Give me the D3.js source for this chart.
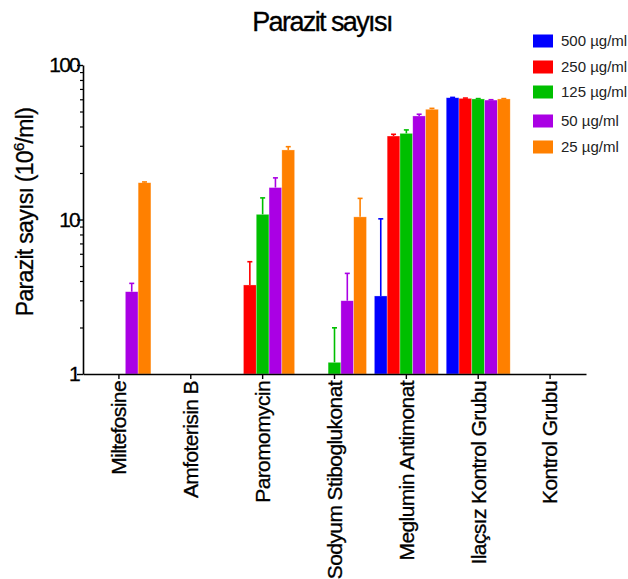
<!DOCTYPE html>
<html>
<head>
<meta charset="utf-8">
<script src="https://cdn.jsdelivr.net/npm/d3@7"></script>
<style>
  body { margin: 0; background: #fff; }
  svg text { font-family: "Liberation Sans", Arial, sans-serif; fill: #000; }
</style>
</head>
<body>
<svg id="chart" width="628" height="579"></svg>
<script>
// groups on the x axis
var categories = ['Miltefosine', 'Amfoterisin B', 'Paromomycin', 'Sodyum Stiboglukonat',
                  'Meglumin Antimonat', 'Ilaçsız Kontrol Grubu', 'Kontrol Grubu'];
var seriesNames = ['500 µg/ml', '250 µg/ml', '125 µg/ml', '50 µg/ml', '25 µg/ml'];
var seriesColors = ['#0000ff', '#ff0000', '#00bf00', '#aa00e4', '#ff8000'];

// mean values (10^6/ml), null = no bar
var s500 = [null, null, null, null, 3.2, 61.4, null];
var s250 = [null, null, 3.77, null, 34.7, 60.8, null];
var s125 = [null, null, 10.8, 1.19, 36.1, 60.3, null];
var s50 = [3.41, null, 16.1, 2.98, 46.8, 59.3, null];
var s25 = [17.3, null, 28.2, 10.4, 51.7, 60.3, null];

// upper error (SD)
var e500 = [null, null, null, null, 6.9, 0.3, null];
var e250 = [null, null, 1.56, null, 0.9, 0.3, null];
var e125 = [null, null, 3.0, 0.8, 1.9, 0.3, null];
var e50 = [0.45, null, 2.5, 1.5, 1.2, 0.3, null];
var e25 = [0.2, null, 1.4, 3.3, 0.7, 0.3, null];

var yTicks = [1, 10, 100];
var yMinor = [2, 3, 4, 5, 6, 7, 8, 9, 20, 30, 40, 50, 60, 70, 80, 90];

var allValues = [s500, s250, s125, s50, s25];
var allErrors = [e500, e250, e125, e50, e25];

var svg = d3.select('#chart');

var x = d3.scaleBand()
  .domain(categories)
  .range([83, 586])
  .padding(0);

var xInner = d3.scaleBand()
  .domain(seriesNames)
  .range([-32, 32])
  .padding(0);

var y = d3.scaleLog()
  .domain([1, 100])
  .range([374, 65]);

// flatten to bar records
var bars = [];
seriesNames.forEach(function(s, si) {
  categories.forEach(function(c, ci) {
    var v = allValues[si][ci];
    if (v != null) {
      bars.push({ cat: c, series: s, color: seriesColors[si], value: v, err: allErrors[si][ci] });
    }
  });
});

var barG = svg.append('g');

barG.selectAll('rect')
  .data(bars)
  .enter()
  .append('rect')
  .attr('x', function(d) { return x(d.cat) + x.bandwidth() / 2 + xInner(d.series); })
  .attr('y', function(d) { return y(d.value); })
  .attr('width', xInner.bandwidth())
  .attr('height', function(d) { return y(1) - y(d.value); })
  .attr('fill', function(d) { return d.color; })
  .attr('stroke', '#fff')
  .attr('stroke-opacity', 0.5)
  .attr('stroke-width', 0.6);

// error bars (upper only)
var errG = svg.append('g');
bars.filter(function(d) { return d.err != null; }).forEach(function(d) {
  var cx = x(d.cat) + x.bandwidth() / 2 + xInner(d.series) + xInner.bandwidth() / 2;
  var top = y(d.value + d.err);
  errG.append('line')
    .attr('x1', cx).attr('x2', cx)
    .attr('y1', y(d.value)).attr('y2', top)
    .attr('stroke', d.color).attr('stroke-width', 1.6);
  errG.append('line')
    .attr('x1', cx - 2.5).attr('x2', cx + 2.5)
    .attr('y1', top).attr('y2', top)
    .attr('stroke', d.color).attr('stroke-width', 1.6);
});

// y axis
var yAxis = svg.append('g')
  .attr('transform', 'translate(83,0)')
  .call(d3.axisLeft(y).tickValues(yTicks).tickSize(6).tickSizeOuter(0).tickFormat(d3.format('d')));

yAxis.select('.domain').attr('stroke-width', 1.6);
yAxis.selectAll('.tick line').attr('stroke-width', 1.4);
yAxis.selectAll('.tick text')
  .attr('x', -4)
  .style('font-size', '21px')
  .style('letter-spacing', '-1.8px')
  .style('stroke', '#000')
  .style('stroke-width', '0.3px')
  .style('font-family', '"Liberation Sans", Arial, sans-serif');

svg.append('g')
  .attr('transform', 'translate(83,0)')
  .call(d3.axisLeft(y).tickValues(yMinor).tickSize(3).tickFormat(''))
  .call(function(g) {
    g.select('.domain').remove();
    g.selectAll('.tick line').attr('stroke-width', 1.2);
  });

// x axis
var xAxis = svg.append('g')
  .attr('transform', 'translate(0,374)')
  .call(d3.axisBottom(x).tickSize(5).tickSizeOuter(0));

xAxis.select('.domain').attr('stroke-width', 1.6);
xAxis.selectAll('.tick line').attr('stroke-width', 1.4);
xAxis.selectAll('.tick text')
  .attr('transform', 'rotate(-90)')
  .attr('x', -7)
  .attr('y', 0)
  .attr('dy', '0.35em')
  .style('text-anchor', 'end')
  .style('font-size', '21px')
  .style('letter-spacing', '-0.6px')
  .style('stroke', '#000')
  .style('stroke-width', '0.3px')
  .style('font-family', '"Liberation Sans", Arial, sans-serif');

// title
svg.append('text')
  .attr('x', 322)
  .attr('y', 31)
  .attr('text-anchor', 'middle')
  .style('font-size', '27px')
  .style('letter-spacing', '-1.6px')
  .style('stroke', '#000')
  .style('stroke-width', '0.3px')
  .text('Parazit sayısı');

// y label
var yl = svg.append('text')
  .attr('transform', 'translate(33,212) rotate(-90)')
  .attr('text-anchor', 'middle')
  .style('font-size', '23px')
  .style('letter-spacing', '-0.7px')
  .style('stroke', '#000')
  .style('stroke-width', '0.3px');
yl.append('tspan').text('Parazit sayısı (10');
yl.append('tspan').attr('dy', -9).style('font-size', '15px').text('6');
yl.append('tspan').attr('dy', 9).text('/ml)');

// legend
var legendY = [41, 67, 92, 121, 147];
var legend = svg.append('g');
seriesNames.forEach(function(s, i) {
  legend.append('rect')
    .attr('x', 533).attr('y', legendY[i] - 6.5)
    .attr('width', 20).attr('height', 13)
    .attr('fill', seriesColors[i]);
  legend.append('text')
    .attr('x', 561).attr('y', legendY[i])
    .attr('dy', '0.35em')
    .style('font-size', '15px')
    .style('fill', '#222')
    .text(s);
});
</script>
</body>
</html>
